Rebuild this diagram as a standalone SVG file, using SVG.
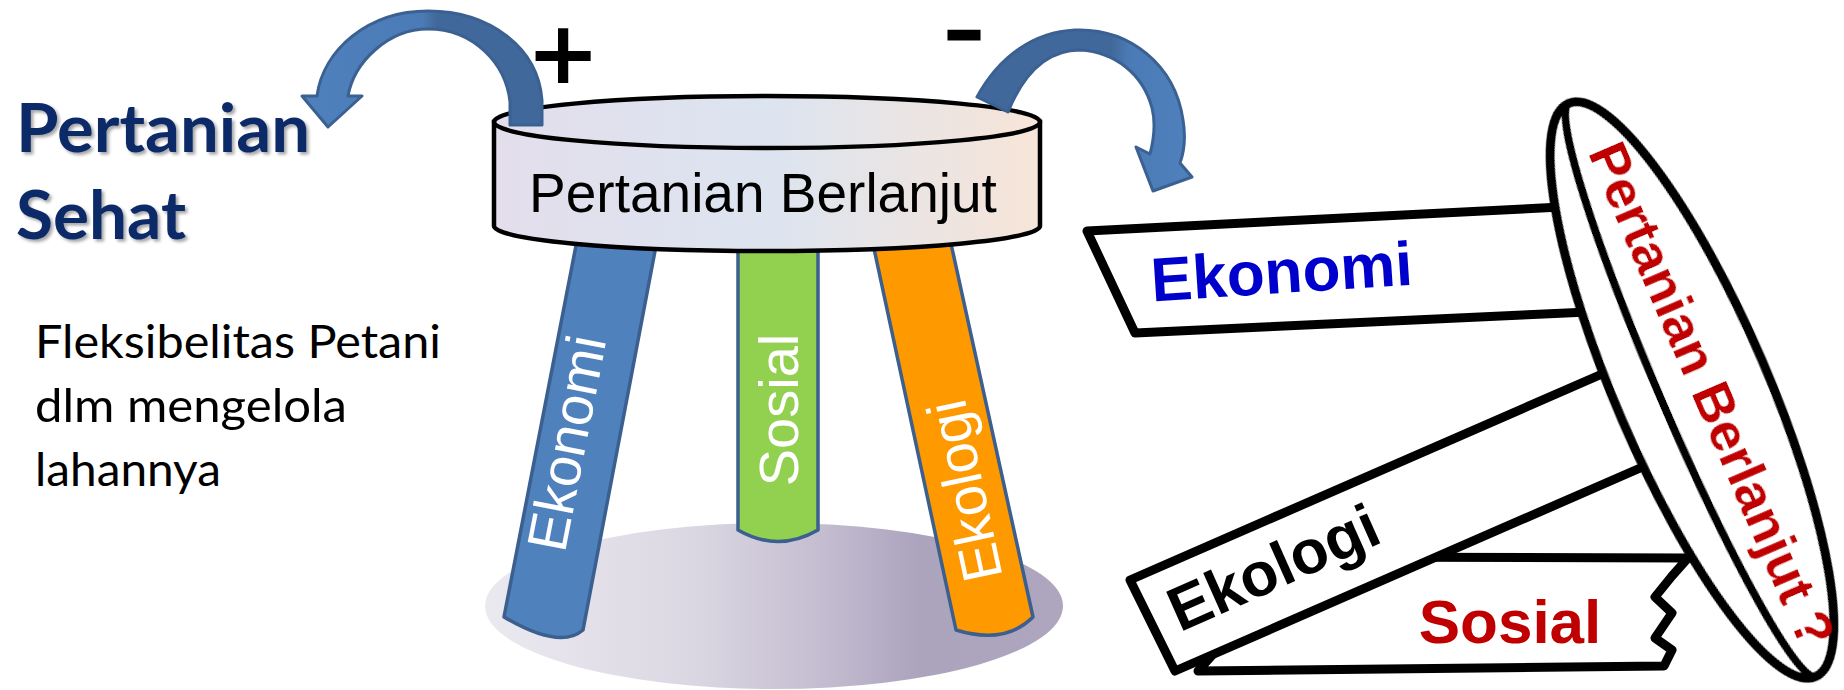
<svg xmlns="http://www.w3.org/2000/svg" width="1844" height="690" viewBox="0 0 1844 690">
  <defs>
    <style>
      .sans { font-family: "Liberation Sans", Arial, sans-serif; }
      .calib { font-family: Lato, "Open Sans", sans-serif; }
      .sign { font-family: "DejaVu Sans", "Liberation Sans", sans-serif; font-weight: bold; text-anchor: middle; fill: #000000; }
      .leg { stroke: #3b5f8f; stroke-width: 3.5; stroke-linejoin: round; }
      .legtxt { font-family: "Liberation Sans", Arial, sans-serif; font-size: 56px; fill: #ffffff; text-anchor: middle; }
      .board { fill: #ffffff; stroke: #000000; stroke-width: 9; stroke-linejoin: round; }
      .btxt { font-family: "Liberation Sans", Arial, sans-serif; font-weight: bold; text-anchor: middle; }
      .arrow { stroke: #3a6192; stroke-width: 3; stroke-linejoin: round; }
    </style>
    <linearGradient id="seatGrad" x1="0" y1="0" x2="1" y2="0">
      <stop offset="0" stop-color="#e4deec"/>
      <stop offset="0.5" stop-color="#dce4f0"/>
      <stop offset="1" stop-color="#f7e5d8"/>
    </linearGradient>
    <linearGradient id="floorGrad" gradientUnits="userSpaceOnUse" x1="486" y1="0" x2="1063" y2="0">
      <stop offset="0" stop-color="#ebe9f0"/>
      <stop offset="0.35" stop-color="#dcd8e3"/>
      <stop offset="0.6" stop-color="#c2bbcf"/>
      <stop offset="0.75" stop-color="#aca3bd"/>
      <stop offset="1" stop-color="#aea6be"/>
    </linearGradient>
    <linearGradient id="plusGrad" gradientUnits="userSpaceOnUse" x1="300" y1="0" x2="545" y2="0">
      <stop offset="0" stop-color="#4f81bd"/>
      <stop offset="0.5" stop-color="#4b7bb6"/>
      <stop offset="0.56" stop-color="#41689a"/>
      <stop offset="1" stop-color="#41689a"/>
    </linearGradient>
    <linearGradient id="minusGrad" gradientUnits="userSpaceOnUse" x1="975" y1="0" x2="1195" y2="0">
      <stop offset="0" stop-color="#41689a"/>
      <stop offset="0.62" stop-color="#41689a"/>
      <stop offset="0.7" stop-color="#4b7bb6"/>
      <stop offset="1" stop-color="#4f81bd"/>
    </linearGradient>
    <filter id="txtShadow" x="-10%" y="-10%" width="120%" height="130%">
      <feDropShadow dx="2.5" dy="2.5" stdDeviation="1.5" flood-color="#000000" flood-opacity="0.35"/>
    </filter>
    <filter id="soft" x="-5%" y="-5%" width="110%" height="110%">
      <feGaussianBlur stdDeviation="0.6"/>
    </filter>
  </defs>

  <rect width="1844" height="690" fill="#ffffff"/>

  <!-- left captions -->
  <g id="title-sehat" class="calib" font-weight="bold" font-size="66" fill="#0f2a68" filter="url(#txtShadow)">
    <text x="16" y="152" textLength="294" lengthAdjust="spacingAndGlyphs">Pertanian</text>
    <text x="16" y="239" textLength="170" lengthAdjust="spacingAndGlyphs">Sehat</text>
  </g>
  <g id="note-fleksibelitas" class="calib" font-size="47" fill="#000000">
    <text x="35" y="358" textLength="406" lengthAdjust="spacingAndGlyphs">Fleksibelitas Petani</text>
    <text x="35" y="422" textLength="312" lengthAdjust="spacingAndGlyphs">dlm mengelola</text>
    <text x="35" y="486" textLength="186" lengthAdjust="spacingAndGlyphs">lahannya</text>
  </g>

  <!-- stool: floor shadow, three legs, seat -->
  <g id="floor">
    <ellipse cx="774" cy="606" rx="289" ry="83" fill="url(#floorGrad)"/>
  </g>
  <g id="leg-ekonomi">
    <path class="leg" fill="#4f81bd" d="M579,230 L659,230 L583,630 Q560,650 504,617 Z"/>
    <text class="legtxt" transform="translate(566,443) rotate(-79)" x="0" y="20">Ekonomi</text>
  </g>
  <g id="leg-sosial">
    <path class="leg" fill="#92d050" d="M738,230 L818,230 L818,530 Q778,553 738,530 Z"/>
    <text class="legtxt" transform="translate(778,410) rotate(-90)" x="0" y="20">Sosial</text>
  </g>
  <g id="leg-ekologi">
    <path class="leg" fill="#ff9900" d="M870,230 L948,230 L1033,617 Q1005,645 956,630 Z"/>
    <text class="legtxt" transform="translate(964,491) rotate(-102)" x="0" y="20">Ekologi</text>
  </g>
  <g id="seat">
    <path d="M494,122 L494,226 A273,25 0 0 0 1040,226 L1040,122 Z" fill="url(#seatGrad)" stroke="#000000" stroke-width="4.5"/>
    <ellipse cx="767" cy="122" rx="273" ry="26" fill="url(#seatGrad)" stroke="#000000" stroke-width="4.5"/>
    <text class="sans" x="763" y="212" font-size="55" text-anchor="middle" fill="#000000">Pertanian Berlanjut</text>
  </g>

  <!-- curved block arrows leaving the seat -->
  <g id="connectors">
    <path id="arrow-plus" class="arrow" fill="url(#plusGrad)"
          d="M542,125 L542,100 C538,48 490,11 428,11 C368,11 323,50 317,96 L302,96 L328,127 L362,96 L348,96 C354,62 388,29 428,29 C474,29 506,64 510,102 L510,125 Z"/>
    <path id="arrow-minus" class="arrow" fill="url(#minusGrad)"
          d="M977,97 C1000,55 1035,32 1075,30 C1130,28 1175,65 1183,120 C1186,138 1184,152 1180,163 L1192,177 L1153,191 L1136,147 L1150,154 C1155,135 1155,120 1152,108 C1143,74 1115,52 1080,50 C1050,50 1025,70 1008,112 Z"/>
  </g>
  <g id="sign-plus">
    <text class="sign" x="563" y="83" font-size="88">+</text>
  </g>
  <g id="sign-minus">
    <text class="sign" x="964" y="51" font-size="55" textLength="38" lengthAdjust="spacingAndGlyphs" stroke="#000000" stroke-width="3">-</text>
  </g>

  <!-- toppled stool: broken boards leaning on the tilted seat disc -->
  <g id="board-sosial" filter="url(#soft)">
    <path class="board" d="M1300,557 L1688,558 L1672,576 L1655,597 L1672,613 L1655,638 L1672,650 L1664,666 L1198,671 Z"/>
    <text class="btxt" x="1510" y="643" font-size="62" fill="#c00000">Sosial</text>
  </g>
  <g id="board-ekologi" filter="url(#soft)">
    <path class="board" d="M1130,580 L1625,364 L1670,455 L1175,671 Z"/>
    <text class="btxt" transform="translate(1282,587) rotate(-24)" x="0" y="0" font-size="62" fill="#000000">Ekologi</text>
  </g>
  <g id="board-ekonomi" filter="url(#soft)">
    <path class="board" d="M1087,231 L1600,205 L1610,311 L1135,333 Z"/>
    <text class="btxt" transform="translate(1283,293) rotate(-3.7)" x="0" y="0" font-size="62" fill="#0000cc">Ekonomi</text>
  </g>
  <g id="disc-pertanian-berlanjut" filter="url(#soft)" transform="translate(1692,390) rotate(-23.3)">
    <ellipse cx="0" cy="0" rx="76" ry="312" fill="#ffffff" stroke="#000000" stroke-width="9"/>
    <path d="M0,-312 A32,312 0 0 0 0,312" fill="none" stroke="#000000" stroke-width="8"/>
    <text class="btxt" transform="rotate(90)" x="12" y="2" font-size="54" fill="#c00000">Pertanian Berlanjut ?</text>
  </g>
</svg>
